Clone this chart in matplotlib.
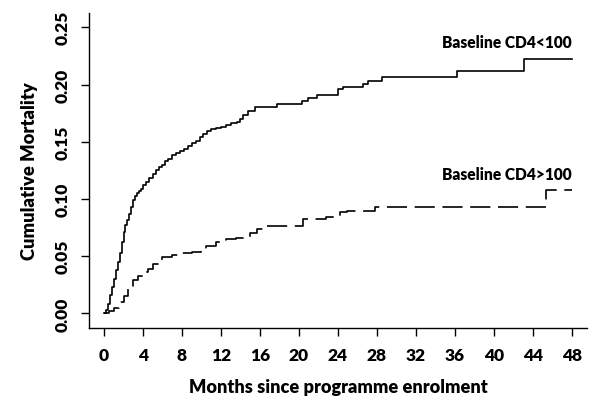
import matplotlib
matplotlib.use("Agg")
import matplotlib.pyplot as plt

plt.rcParams['font.family'] = ['Lato', 'DejaVu Sans']
plt.rcParams['font.weight'] = 'bold'
plt.rcParams['lines.scale_dashes'] = False

FW = 'heavy'

# Baseline CD4<100 (solid)
t_low = [0, 0.2, 0.4, 0.6, 0.8, 1.0, 1.2, 1.4, 1.6, 1.8, 2.0, 2.2, 2.4, 2.6, 2.8,
         3.0, 3.2, 3.4, 3.6, 3.8, 4.0, 4.3, 4.6, 5.0, 5.3, 5.6, 6.0, 6.3, 6.6, 7.0,
         7.4, 7.8, 8.2, 8.6, 9.0, 9.4, 9.8, 10.2, 10.6, 11.0, 11.5, 12.0, 12.5, 13.0,
         13.6, 14.0, 14.3, 14.8, 15.5, 17.7, 20.3, 20.9, 21.9, 24.0, 24.5, 26.6, 27.1,
         28.5, 36.2, 43.1, 48.0]
v_low = [0, 0.003, 0.008, 0.016, 0.023, 0.030, 0.038, 0.045, 0.053, 0.062, 0.071,
         0.077, 0.082, 0.087, 0.093, 0.099, 0.103, 0.105, 0.107, 0.109, 0.112, 0.115,
         0.118, 0.122, 0.125, 0.128, 0.130, 0.133, 0.135, 0.138, 0.140, 0.142, 0.144,
         0.146, 0.149, 0.151, 0.154, 0.157, 0.159, 0.161, 0.162, 0.163, 0.165, 0.166,
         0.167, 0.170, 0.173, 0.177, 0.180, 0.183, 0.1855, 0.188, 0.1905, 0.196, 0.1976,
         0.2004, 0.2033, 0.2063, 0.212, 0.2223, 0.2223]

# Baseline CD4>100 (dashed)
t_high = [0, 0.5, 1.0, 1.5, 2.0, 2.5, 3.0, 3.5, 4.0, 4.5, 5.0, 5.5, 6.0, 7.0, 8.0,
          9.0, 10.0, 10.5, 11.5, 12.5, 13.5, 14.5, 15.0, 15.7, 16.7, 20.4, 22.8, 24.2,
          24.9, 27.8, 45.3, 48.0]
v_high = [0, 0.002, 0.005, 0.010, 0.015, 0.024, 0.029, 0.033, 0.036, 0.039, 0.043,
          0.047, 0.049, 0.051, 0.053, 0.054, 0.055, 0.059, 0.062, 0.065, 0.066, 0.067,
          0.070, 0.0737, 0.0766, 0.0824, 0.0839, 0.0883, 0.0897, 0.093, 0.108, 0.108]

x_ticks = list(range(0, 49, 4))
y_ticks = [0.00, 0.05, 0.10, 0.15, 0.20, 0.25]
y_tick_labels = ["0.00", "0.05", "0.10", "0.15", "0.20", "0.25"]

fig = plt.figure(figsize=(6, 4.02), dpi=100)
ax = fig.add_axes([89/600, 1-329/402, (587-89)/600, (329-14)/402])

ax.step(t_low, v_low, where='post', color='black', lw=1.2)
ax.step(t_high, v_high, where='post', color='black', lw=1.2, dashes=(14.5, 5.5))

ax.set_xlim(-1.54, 49.55)
ax.set_ylim(-0.0128, 0.2625)

ax.spines['top'].set_visible(False)
ax.spines['right'].set_visible(False)
for s in ('left', 'bottom'):
    ax.spines[s].set_linewidth(1.0)

ax.set_xticks(x_ticks)
ax.set_xticklabels([str(x) for x in x_ticks], fontsize=12.5, fontweight=FW)
ax.set_yticks(y_ticks)
ax.set_yticklabels(y_tick_labels, fontsize=12.5, fontweight=FW, rotation=90,
                   va='center')
ax.tick_params(axis='x', length=5.5, width=1.0, pad=8)
ax.tick_params(axis='y', length=5.5, width=1.0, pad=8)

ax.set_xlabel("Months since programme enrolment", fontsize=13.1, fontweight=FW,
              labelpad=11)
ax.set_ylabel("Cumulative Mortality", fontsize=13.2, fontweight=FW, labelpad=12)

ax.text(48, 0.2374, "Baseline CD4<100", ha='right', va='center', fontsize=11.2,
        fontweight=FW)
ax.text(48, 0.1218, "Baseline CD4>100", ha='right', va='center', fontsize=11.2,
        fontweight=FW)

fig.savefig("out.png", dpi=100)
